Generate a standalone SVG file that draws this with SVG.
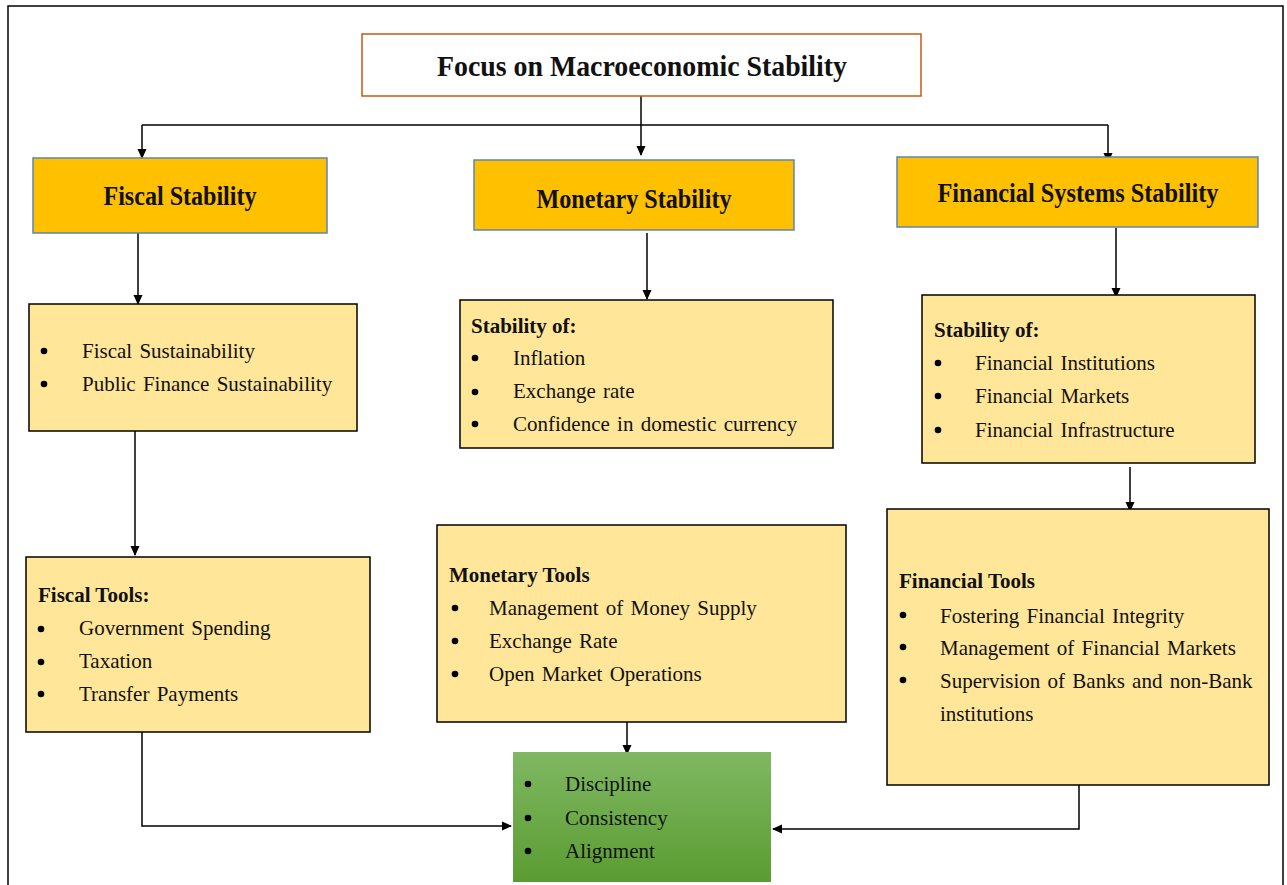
<svg xmlns="http://www.w3.org/2000/svg" width="1287" height="885" viewBox="0 0 1287 885">
<defs>
<marker id="arr" markerWidth="10" markerHeight="10" refX="9" refY="5" orient="auto" markerUnits="userSpaceOnUse">
<path d="M0,0.5 L10,5 L0,9.5 Z" fill="#000"/>
</marker>
<linearGradient id="green" x1="0" y1="0" x2="0" y2="1">
<stop offset="0" stop-color="#80b862"/>
<stop offset="1" stop-color="#5a9c32"/>
</linearGradient>
<style>
.frame{fill:none;stroke:#000;stroke-width:1.5}
.head{fill:#ffc000;stroke:#5b86b5;stroke-width:1.5}
.light{fill:#ffe699;stroke:#000;stroke-width:1.5}
.title{fill:#fff;stroke:#c55a11;stroke-width:1.5}
.green{fill:url(#green);stroke:none}
.ht{font-family:"Liberation Serif","Times New Roman",serif;font-weight:bold;font-size:28px;fill:#111;text-anchor:middle}
.tt{font-family:"Liberation Serif","Times New Roman",serif;font-weight:bold;font-size:30px;fill:#111;text-anchor:middle}
.b{font-family:"Liberation Serif","Times New Roman",serif;font-size:21px;fill:#111;word-spacing:2px}
.bb{font-family:"Liberation Serif","Times New Roman",serif;font-size:21px;font-weight:bold;fill:#111}
.dot{fill:#000}
.conn{fill:none;stroke:#000;stroke-width:1.5}
</style>
</defs>
<rect width="1287" height="885" fill="#fff"/>
<path class="frame" d="M8,890 V6 H1283 V890"/>

<g id="connectors">
<path class="conn" d="M641,96 V125"/>
<path class="conn" d="M142,125 H1108"/>
<path class="conn" d="M142,125 V158" marker-end="url(#arr)"/>
<path class="conn" d="M641,125 V155" marker-end="url(#arr)"/>
<path class="conn" d="M1108,125 V162" marker-end="url(#arr)"/>
<path class="conn" d="M138,233 V304" marker-end="url(#arr)"/>
<path class="conn" d="M647,233 V299" marker-end="url(#arr)"/>
<path class="conn" d="M1116,228 V297" marker-end="url(#arr)"/>
<path class="conn" d="M135,431 V555" marker-end="url(#arr)"/>
<path class="conn" d="M1130,467 V511" marker-end="url(#arr)"/>
<path class="conn" d="M627,722 V754" marker-end="url(#arr)"/>
<path class="conn" d="M142,732 V826 H511" marker-end="url(#arr)"/>
<path class="conn" d="M1079,785 V829 H773" marker-end="url(#arr)"/>
</g>

<g id="title">
<rect class="title" x="362" y="34" width="559" height="62"/>
<text class="tt" x="642" y="76" textLength="410" lengthAdjust="spacingAndGlyphs">Focus on Macroeconomic Stability</text>
</g>

<g id="fiscal-stability">
<rect class="head" x="33" y="158" width="294" height="75"/>
<text class="ht" x="180" y="205" textLength="153" lengthAdjust="spacingAndGlyphs">Fiscal Stability</text>
</g>

<g id="monetary-stability">
<rect class="head" x="474" y="160" width="320" height="70"/>
<text class="ht" x="634" y="208" textLength="195" lengthAdjust="spacingAndGlyphs">Monetary Stability</text>
</g>

<g id="financial-systems-stability">
<rect class="head" x="897" y="157" width="361" height="70"/>
<text class="ht" x="1078" y="202" textLength="281" lengthAdjust="spacingAndGlyphs">Financial Systems Stability</text>
</g>

<g id="fiscal-sustainability">
<rect class="light" x="29" y="304" width="328" height="127"/>
<circle class="dot" cx="44" cy="351" r="3.3"/><text class="b" x="82" y="358">Fiscal Sustainability</text>
<circle class="dot" cx="44" cy="384" r="3.3"/><text class="b" x="82" y="391">Public Finance Sustainability</text>
</g>

<g id="monetary-stability-of">
<rect class="light" x="460" y="300" width="373" height="148"/>
<text class="bb" x="471" y="333">Stability of:</text>
<circle class="dot" cx="475" cy="358" r="3.3"/><text class="b" x="513" y="365">Inflation</text>
<circle class="dot" cx="475" cy="392" r="3.3"/><text class="b" x="513" y="398">Exchange rate</text>
<circle class="dot" cx="475" cy="424" r="3.3"/><text class="b" x="513" y="431">Confidence in domestic currency</text>
</g>

<g id="financial-stability-of">
<rect class="light" x="922" y="295" width="333" height="168"/>
<text class="bb" x="934" y="337">Stability of:</text>
<circle class="dot" cx="938" cy="363" r="3.3"/><text class="b" x="975" y="370">Financial Institutions</text>
<circle class="dot" cx="938" cy="396" r="3.3"/><text class="b" x="975" y="403">Financial Markets</text>
<circle class="dot" cx="938" cy="430" r="3.3"/><text class="b" x="975" y="437">Financial Infrastructure</text>
</g>

<g id="fiscal-tools">
<rect class="light" x="26" y="557" width="344" height="175"/>
<text class="bb" x="38" y="602">Fiscal Tools:</text>
<circle class="dot" cx="41" cy="629" r="3.3"/><text class="b" x="79" y="635">Government Spending</text>
<circle class="dot" cx="41" cy="662" r="3.3"/><text class="b" x="79" y="668">Taxation</text>
<circle class="dot" cx="41" cy="694" r="3.3"/><text class="b" x="79" y="701">Transfer Payments</text>
</g>

<g id="monetary-tools">
<rect class="light" x="437" y="525" width="409" height="197"/>
<text class="bb" x="449" y="582">Monetary Tools</text>
<circle class="dot" cx="455" cy="608" r="3.3"/><text class="b" x="489" y="615">Management of Money Supply</text>
<circle class="dot" cx="455" cy="641" r="3.3"/><text class="b" x="489" y="648">Exchange Rate</text>
<circle class="dot" cx="455" cy="674" r="3.3"/><text class="b" x="489" y="681">Open Market Operations</text>
</g>

<g id="financial-tools">
<rect class="light" x="887" y="509" width="382" height="276"/>
<text class="bb" x="899" y="588">Financial Tools</text>
<circle class="dot" cx="903" cy="615" r="3.3"/><text class="b" x="940" y="623">Fostering Financial Integrity</text>
<circle class="dot" cx="903" cy="647" r="3.3"/><text class="b" x="940" y="655">Management of Financial Markets</text>
<circle class="dot" cx="903" cy="680" r="3.3"/><text class="b" x="940" y="688">Supervision of Banks and non-Bank</text>
<text class="b" x="940" y="721">institutions</text>
</g>

<g id="outcomes">
<rect class="green" x="513" y="752" width="258" height="130"/>
<circle class="dot" cx="528" cy="784" r="3.3"/><text class="b" x="565" y="791">Discipline</text>
<circle class="dot" cx="528" cy="818" r="3.3"/><text class="b" x="565" y="825">Consistency</text>
<circle class="dot" cx="528" cy="851" r="3.3"/><text class="b" x="565" y="858">Alignment</text>
</g>
</svg>
